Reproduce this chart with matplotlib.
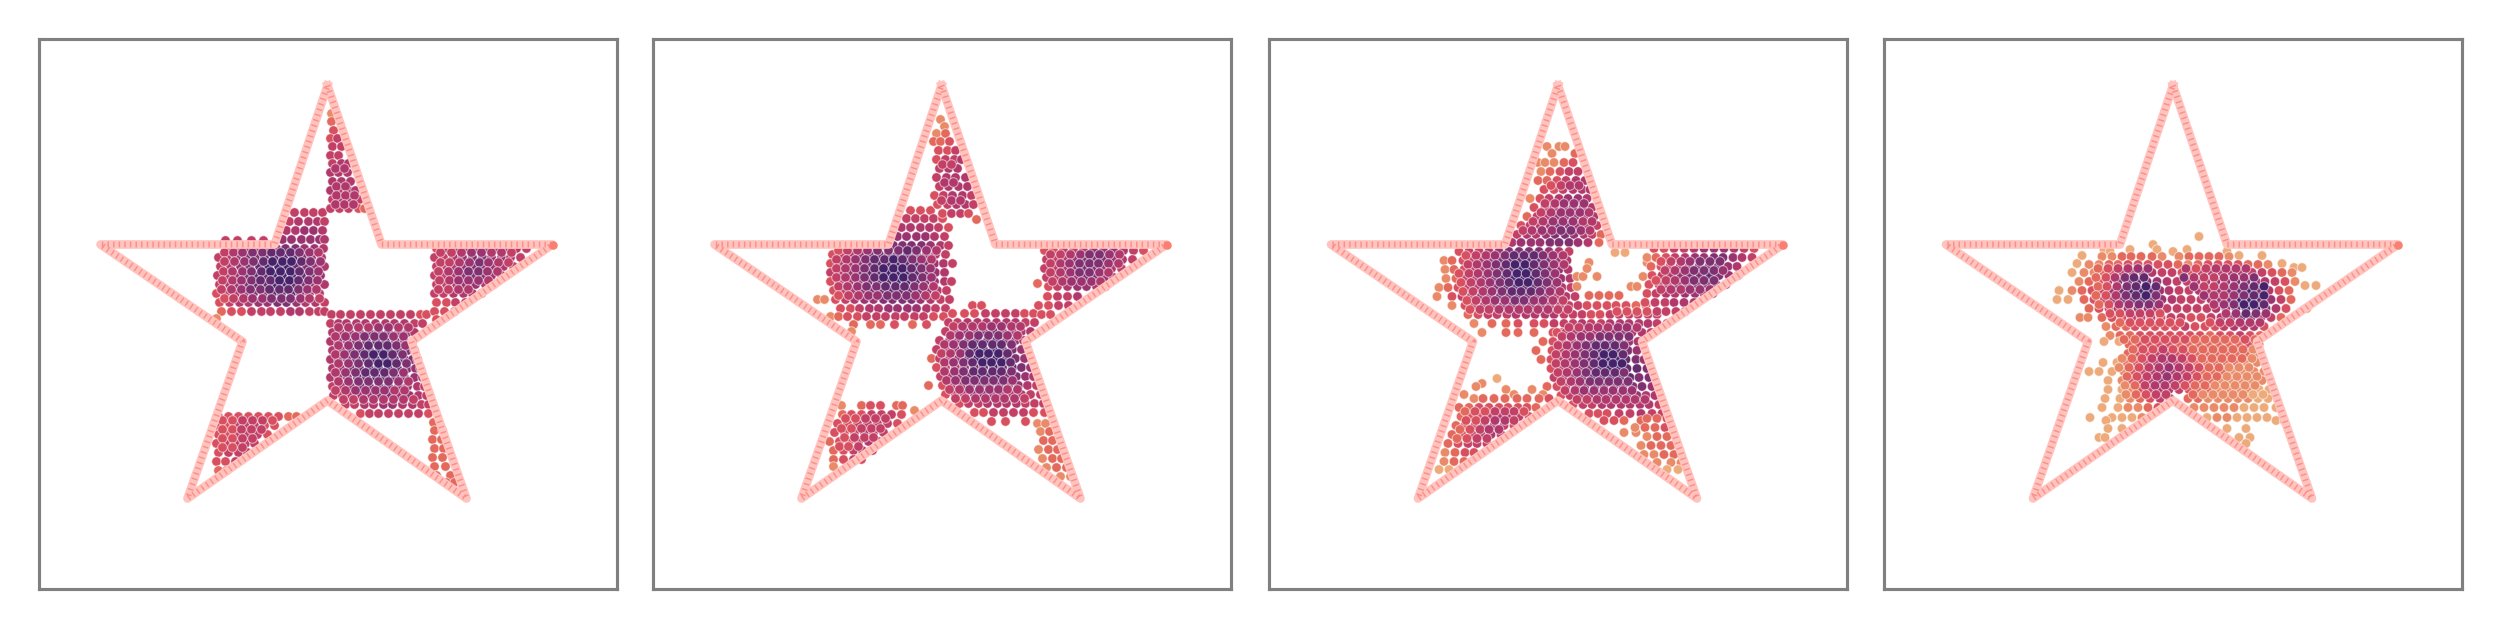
import matplotlib
matplotlib.use('Agg')
import matplotlib.pyplot as plt
from matplotlib.colors import LinearSegmentedColormap

star_x = [289, 343, 514, 373, 428, 289, 149, 204, 62, 236, 289]
star_y = [47, 206, 206, 303, 460, 362, 460, 303, 206, 206, 47]
tip_x = [514]
tip_y = [206]

# rows of points: (y, x values, shade of each point from 0 light to 9 dark)
panel1 = [
    (202, [187, 199, 213, 225], "4444"),
    (174, [256, 266, 275, 284], "4444"),
    (183, [251, 260, 270, 279, 286], "45554"),
    (192, [248, 257, 266, 275, 284], "55665"),
    (201, [244, 253, 263, 272, 281, 286], "666665"),
    (210, [190, 199, 208, 218, 228, 238, 247, 257, 266, 276, 285], "45556677665"),
    (219, [180, 189, 198, 208, 217, 226, 236, 245, 255, 264, 273, 283], "456778888765"),
    (228, [182, 192, 202, 211, 221, 230, 240, 249, 258, 268, 277, 286], "456789998765"),
    (237, [179, 188, 197, 207, 216, 226, 235, 244, 254, 263, 273, 282], "456788999876"),
    (246, [181, 191, 200, 210, 219, 229, 238, 248, 257, 267, 276, 286], "456788998765"),
    (255, [178, 187, 197, 206, 215, 225, 234, 243, 253, 262, 271, 281], "345677888765"),
    (264, [181, 191, 201, 210, 220, 229, 239, 248, 258, 267, 277, 286], "345566776554"),
    (273, [183, 193, 203, 213, 223, 232, 242, 252, 261, 271, 280, 286], "233444455444"),
    (280, [178], "1"),
    (214, [186, 195, 204, 214, 224, 233, 242, 252, 261, 271, 280], "45677888765"),
    (223, [186, 196, 206, 215, 225, 234, 244, 253, 263, 272, 282], "45678999876"),
    (233, [185, 194, 204, 213, 223, 232, 242, 252, 261, 271, 280], "45678999876"),
    (242, [184, 194, 203, 213, 222, 232, 241, 251, 260, 270, 279], "45678899876"),
    (251, [183, 193, 203, 212, 222, 231, 241, 250, 260, 269, 278], "45677888765"),
    (260, [186, 195, 205, 214, 224, 233, 243, 252, 262, 271, 281], "34566777654"),
    (276, [293, 302, 312, 322, 332, 342, 352, 362, 372, 382, 388], "44444444433"),
    (285, [292, 300, 308, 318, 327, 337, 347, 356, 366, 376, 384], "45555555544"),
    (294, [294, 302, 311, 321, 331, 340, 350, 360, 369, 376], "5566777665"),
    (303, [292, 300, 309, 318, 328, 338, 347, 357, 366, 374], "5667788765"),
    (312, [294, 303, 312, 322, 331, 341, 350, 360, 369, 376], "5678899876"),
    (321, [292, 300, 309, 318, 328, 337, 347, 356, 366, 374, 379], "56789999876"),
    (330, [294, 302, 312, 321, 331, 340, 350, 359, 369, 377, 382], "56789998766"),
    (339, [292, 300, 309, 319, 328, 338, 347, 357, 366, 376, 384], "56788988765"),
    (348, [294, 303, 312, 322, 331, 341, 350, 360, 369, 379, 386], "45677787654"),
    (357, [295, 304, 313, 323, 333, 342, 352, 361, 371, 380, 388], "44566776654"),
    (366, [307, 316, 326, 335, 345, 354, 364, 374, 383, 390], "4455665544"),
    (375, [322, 331, 340, 350, 360, 370, 380, 390], "34444443"),
    (289, [300, 310, 320, 330, 340, 350, 360, 370], "55556655"),
    (298, [297, 307, 317, 326, 336, 345, 355, 365], "56677766"),
    (307, [300, 310, 320, 330, 340, 349, 358, 367], "56788876"),
    (316, [297, 306, 316, 326, 335, 345, 354, 364], "56789987"),
    (325, [300, 310, 320, 330, 340, 349, 358, 368], "56789987"),
    (334, [297, 307, 317, 327, 336, 346, 355, 365], "56788876"),
    (343, [300, 310, 320, 330, 340, 350, 360, 370], "56777765"),
    (352, [297, 307, 317, 327, 337, 346, 356, 366], "45666655"),
    (361, [305, 315, 325, 335, 345, 355, 365, 375], "44555554"),
    (75, [293], "1"),
    (83, [293], "2"),
    (92, [295], "3"),
    (100, [292, 299], "34"),
    (108, [294, 303], "44"),
    (117, [292, 300], "44"),
    (125, [294, 303, 310], "455"),
    (134, [292, 300, 309], "555"),
    (143, [294, 303, 312], "555"),
    (152, [292, 300, 310, 317], "5555"),
    (161, [294, 303, 313, 321], "4554"),
    (170, [292, 301, 310, 320, 326], "44432"),
    (130, [297, 306], "55"),
    (148, [298, 307], "55"),
    (157, [298, 307, 316], "555"),
    (166, [297, 306, 315], "555"),
    (210, [398, 408, 418, 428, 438, 448, 458, 468, 478, 488], "3455566554"),
    (219, [396, 405, 415, 424, 434, 444, 453, 463, 472, 482], "4456776654"),
    (228, [398, 408, 417, 427, 437, 446, 456, 465, 475], "445677654"),
    (237, [396, 405, 415, 425, 434, 444, 453, 463], "44567765"),
    (246, [398, 408, 418, 427, 437, 447, 455], "4456655"),
    (255, [396, 405, 415, 425, 434, 443], "445554"),
    (264, [398, 408, 417, 427], "3344"),
    (273, [396, 406, 416], "334"),
    (281, [398], "3"),
    (214, [402, 413, 423, 433, 443, 453, 463, 473], "44566554"),
    (224, [402, 411, 421, 431, 441, 450, 460, 470], "44567654"),
    (233, [400, 410, 420, 430, 440, 449, 459], "4567765"),
    (242, [401, 411, 420, 430, 440, 450], "456665"),
    (251, [400, 410, 420, 430], "4455"),
    (378, [180, 190, 200, 210, 220, 230, 240, 250, 258], "333333322"),
    (387, [178, 187, 197, 207, 216, 226, 236], "3344433"),
    (396, [180, 190, 199, 209, 219, 229], "334443"),
    (405, [178, 187, 197, 207, 216], "34444"),
    (414, [180, 190, 200, 209], "3444"),
    (423, [178, 187, 197], "334"),
    (432, [180, 188], "22"),
    (382, [184, 194, 204, 214, 224, 234], "334443"),
    (391, [184, 194, 203, 213, 223], "33444"),
    (400, [184, 194, 204, 214], "3344"),
    (409, [184, 194, 204], "334"),
    (384, [395], "2"),
    (392, [396, 404], "22"),
    (401, [394, 403], "22"),
    (410, [396, 405], "22"),
    (419, [394, 404], "22"),
    (428, [396, 407], "22"),
    (437, [398, 412], "22"),
    (444, [408, 416], "22"),
]

panel2 = [
    (172, [258, 268, 278], "333"),
    (180, [254, 263, 272, 281, 290], "44443"),
    (189, [249, 258, 268, 277, 286, 296], "555543"),
    (198, [245, 254, 264, 273, 282, 292], "666654"),
    (207, [190, 200, 211, 222, 233, 241, 250, 259, 269, 278, 288, 296], "344567777654"),
    (216, [180, 189, 198, 208, 217, 227, 236, 245, 255, 264, 274, 283, 293], "3456778887654"),
    (225, [178, 187, 197, 206, 216, 225, 235, 244, 253, 263, 272, 282, 291, 300], "34567889887654"),
    (234, [178, 188, 197, 207, 216, 226, 235, 245, 254, 264, 273, 283, 292], "4567889998765"),
    (243, [178, 187, 197, 206, 216, 225, 235, 244, 254, 263, 273, 282, 292, 299], "34567889987654"),
    (252, [181, 190, 200, 209, 219, 228, 238, 247, 256, 266, 275, 285, 294], "3456778887654"),
    (261, [165, 172, 183, 193, 202, 212, 221, 231, 240, 250, 259, 268, 278, 288, 297], "113456677776544"),
    (270, [188, 198, 207, 217, 226, 236, 245, 255, 264, 274, 283, 293], "334556666544"),
    (278, [178, 186, 195, 205, 214, 224, 233, 243, 252, 262, 271, 281, 291], "1233444444433"),
    (286, [201, 218, 228, 242, 260, 274], "222323"),
    (293, [199], "1"),
    (212, [186, 195, 205, 215, 225, 236, 246, 255, 264, 274, 284], "34567778765"),
    (221, [184, 194, 203, 213, 222, 232, 241, 250, 260, 269, 279], "45678898765"),
    (230, [184, 193, 203, 212, 222, 231, 241, 250, 259, 269, 278], "45678999876"),
    (239, [184, 193, 203, 212, 222, 231, 241, 251, 260, 270, 279], "45678999876"),
    (248, [186, 195, 205, 214, 224, 233, 243, 252, 262, 271, 281], "45677888765"),
    (257, [186, 196, 206, 216, 225, 235, 244, 254, 263, 273, 283], "34566777654"),
    (267, [320, 329], "33"),
    (275, [300, 312, 322, 333, 343, 353, 363, 372, 381], "333444433"),
    (284, [296, 305, 315, 325, 334, 344, 354, 363, 373, 382], "4455555544"),
    (293, [293, 302, 312, 322, 331, 341, 350, 360, 369, 378], "4566776655"),
    (302, [287, 297, 306, 316, 325, 335, 344, 354, 363, 371], "4567888765"),
    (311, [284, 293, 303, 312, 322, 331, 341, 350, 360, 369], "4567899876"),
    (320, [279, 287, 297, 306, 316, 325, 335, 344, 354, 363, 372], "24567999876"),
    (329, [284, 293, 303, 312, 322, 331, 341, 350, 360, 369, 378], "34567898876"),
    (338, [288, 297, 307, 316, 326, 335, 345, 354, 364, 373, 381], "45678887765"),
    (347, [276, 290, 299, 309, 318, 328, 337, 347, 356, 366, 375, 384], "234567776654"),
    (356, [293, 303, 312, 322, 331, 341, 350, 360, 369, 378, 388], "34566665544"),
    (365, [307, 316, 326, 335, 345, 354, 364, 373, 382, 391], "3445555444"),
    (374, [322, 331, 341, 351, 361, 371, 381, 392], "33444433"),
    (383, [339, 353, 373], "333"),
    (288, [301, 310, 320, 330, 339, 349, 359, 368], "45556655"),
    (297, [298, 307, 317, 326, 336, 346, 355, 365], "56677765"),
    (306, [292, 301, 311, 320, 330, 340, 349, 359], "56788887"),
    (315, [289, 298, 308, 317, 327, 336, 346, 355], "45689998"),
    (324, [292, 301, 311, 320, 330, 339, 349, 358], "56789998"),
    (333, [292, 302, 311, 321, 330, 340, 349, 359], "56788887"),
    (342, [294, 303, 313, 322, 332, 341, 351, 360], "56777776"),
    (351, [297, 307, 317, 327, 337, 346, 355, 365], "45666655"),
    (360, [303, 313, 323, 333, 343, 352, 362, 372], "44555554"),
    (258, [395, 405, 415, 425], "3445"),
    (267, [386, 396, 406, 416], "3344"),
    (276, [389, 398], "33"),
    (212, [392, 401, 411, 421, 431, 441, 451, 461, 471, 481, 491], "33445666543"),
    (221, [394, 403, 413, 422, 432, 442, 451, 461, 470, 480], "4456777654"),
    (230, [392, 402, 411, 421, 431, 440, 450, 459, 469], "445677654"),
    (239, [394, 404, 414, 423, 433, 443, 452, 461], "44567765"),
    (248, [396, 405, 415, 425, 434, 444, 453], "3456654"),
    (245, [385], "2"),
    (216, [398, 408, 418, 428, 437, 447, 457, 467], "44567765"),
    (225, [398, 408, 417, 427, 437, 446, 456, 466], "45677765"),
    (234, [398, 408, 418, 427, 437, 447, 456], "4567765"),
    (243, [400, 410, 419, 429, 439, 448], "456665"),
    (81, [288], "1"),
    (88, [292], "1"),
    (95, [284, 293], "12"),
    (103, [281, 288, 297], "223"),
    (112, [286, 295, 303], "334"),
    (121, [284, 293, 302, 309], "3445"),
    (130, [287, 296, 305], "455"),
    (139, [284, 294, 303, 313], "4555"),
    (148, [287, 296, 306, 315], "4555"),
    (157, [282, 291, 300, 310, 319], "34554"),
    (166, [285, 295, 304, 313, 321], "34554"),
    (175, [290, 299, 308, 316], "3443"),
    (181, [324], "2"),
    (126, [290, 299], "44"),
    (144, [292, 301], "55"),
    (162, [289, 299, 308], "455"),
    (367, [189, 209, 218, 228, 244, 250], "123322"),
    (372, [262], "1"),
    (376, [190, 199, 209, 219, 229, 239, 249], "2334443"),
    (385, [185, 195, 205, 215, 225, 235, 245], "3344443"),
    (394, [182, 192, 202, 212, 221, 231], "334544"),
    (403, [177, 187, 197, 206, 216, 226], "233454"),
    (412, [181, 191, 201, 210, 220], "23444"),
    (421, [181, 191, 201, 209], "2343"),
    (428, [181], "1"),
    (380, [193, 203, 213, 223, 233], "33444"),
    (390, [189, 199, 209, 219, 228], "33444"),
    (399, [192, 202, 212, 221], "3444"),
    (408, [187, 196, 206], "334"),
    (385, [385, 393], "11"),
    (393, [388, 397], "12"),
    (402, [391, 400], "22"),
    (411, [386, 396, 405], "122"),
    (420, [390, 400, 409], "122"),
    (429, [394, 404, 414], "122"),
    (438, [408, 418], "11"),
]

panel3 = [
    (108, [278, 290, 296], "111"),
    (115, [283, 306], "12"),
    (124, [269, 276, 285, 295, 304], "11123"),
    (133, [272, 281, 291, 300, 309], "12344"),
    (142, [269, 278, 288, 297, 307, 316], "223455"),
    (151, [275, 285, 294, 304, 313, 321], "334555"),
    (160, [261, 271, 280, 290, 299, 309, 318], "1345665"),
    (169, [265, 276, 285, 295, 304, 314, 323], "3456665"),
    (178, [258, 268, 277, 287, 296, 306, 315, 325], "24566665"),
    (187, [252, 261, 271, 281, 290, 300, 309, 319, 328], "345677654"),
    (196, [248, 258, 267, 277, 286, 296, 305, 315, 323, 332], "4556776542"),
    (204, [243, 252, 262, 271, 281, 290, 300, 309, 319, 330], "5666777652"),
    (147, [282, 292, 301, 310], "3455"),
    (165, [276, 286, 295, 305, 315], "45666"),
    (174, [272, 282, 292, 301, 311, 320], "456665"),
    (183, [264, 274, 284, 294, 304, 314, 323], "4566655"),
    (192, [254, 263, 273, 283, 292, 302, 312, 321], "45667765"),
    (213, [190, 200, 210, 220, 230, 240, 250, 260, 270, 280, 290, 300], "344567777654"),
    (222, [175, 183, 194, 203, 213, 222, 232, 241, 251, 260, 270, 279, 289, 298], "12345678888765"),
    (231, [176, 185, 195, 204, 214, 223, 233, 242, 252, 261, 271, 280, 290, 299], "12345678998765"),
    (240, [177, 187, 197, 206, 216, 225, 235, 244, 254, 263, 273, 282, 292, 301], "12456789998765"),
    (249, [170, 179, 189, 198, 208, 217, 227, 236, 246, 255, 265, 274, 284, 293, 302], "123456788887654"),
    (258, [168, 183, 193, 202, 212, 221, 231, 240, 250, 259, 269, 278, 288, 297, 306], "134566778776554"),
    (267, [183, 196, 205, 215, 224, 234, 243, 253, 262, 272, 281, 291, 300, 309], "13455666665544"),
    (276, [199, 209, 219, 228, 238, 247, 257, 266, 276, 285, 295, 304, 313], "2344455555444"),
    (285, [205, 223, 237, 249, 265, 275, 285, 295, 304, 313], "1223334445"),
    (294, [213, 237, 249, 265, 284, 293, 303], "1222334"),
    (217, [197, 207, 217, 226, 236, 245, 255, 265, 274, 284, 294], "34567888765"),
    (226, [199, 208, 218, 227, 237, 246, 256, 265, 275, 285, 295], "45678998765"),
    (235, [190, 200, 209, 219, 228, 238, 248, 257, 267, 276, 286], "34567899876"),
    (244, [192, 202, 212, 221, 231, 240, 250, 259, 269, 278, 288], "34567899876"),
    (253, [194, 204, 214, 223, 233, 243, 252, 262, 271, 281, 291], "34567888765"),
    (262, [198, 207, 217, 226, 236, 246, 255, 265, 274, 284, 294], "34566776654"),
    (271, [201, 211, 220, 230, 240, 250, 259, 269, 279, 289, 299], "34455555544"),
    (238, [308, 314, 328, 374], "1111"),
    (248, [308, 362, 368], "111"),
    (224, [320, 378], "11"),
    (230, [318], "1"),
    (257, [320, 330, 340, 350], "2222"),
    (214, [346, 356], "00"),
    (267, [318, 328, 338, 347, 357, 367, 377], "3333322"),
    (276, [322, 331, 341, 350, 360, 369, 379, 388], "33444444"),
    (285, [322, 332, 341, 351, 360, 370, 379, 388, 398], "445555544"),
    (294, [288, 297, 306, 316, 325, 335, 344, 354, 363, 373, 382], "34555666554"),
    (303, [274, 284, 293, 303, 312, 322, 331, 341, 350, 360, 369], "23456778765"),
    (312, [267, 283, 292, 302, 311, 321, 330, 340, 349, 359, 368], "23456788876"),
    (321, [272, 282, 291, 300, 310, 319, 329, 338, 348, 357, 367, 375], "234567899876"),
    (330, [282, 292, 301, 311, 320, 330, 339, 349, 358, 368, 378], "34567899887"),
    (339, [285, 294, 304, 313, 323, 332, 342, 351, 361, 370, 380], "45678888877"),
    (348, [278, 288, 297, 307, 316, 326, 335, 345, 354, 364, 373, 383], "234567777776"),
    (357, [292, 301, 311, 320, 330, 339, 349, 358, 368, 377, 386], "34566666655"),
    (366, [304, 314, 323, 333, 342, 352, 361, 371, 380, 390], "3445555554"),
    (375, [320, 329, 338, 350, 361, 372, 383, 393], "33344544"),
    (382, [335, 345, 355, 372], "3322"),
    (394, [355, 367], "11"),
    (289, [300, 310, 320, 329, 339, 349, 358, 368], "44555665"),
    (298, [293, 302, 312, 321, 331, 340, 350, 360], "45667777"),
    (307, [289, 298, 308, 317, 327, 336, 346, 355], "45678887"),
    (316, [287, 297, 306, 316, 325, 335, 344, 354], "45678998"),
    (325, [287, 296, 306, 315, 325, 334, 344, 353], "45678999"),
    (334, [289, 298, 308, 317, 327, 336, 346, 355], "45678887"),
    (343, [292, 302, 311, 321, 330, 340, 349, 359], "45677777"),
    (352, [296, 306, 315, 325, 335, 344, 354, 363], "45666666"),
    (361, [308, 318, 328, 337, 347, 357, 366, 376], "44555555"),
    (210, [385, 395, 405, 415, 425, 435, 445, 455, 465, 475, 485], "33445666543"),
    (219, [378, 387, 397, 406, 416, 426, 435, 445, 454, 464, 473, 483], "123456677654"),
    (228, [382, 392, 401, 411, 420, 430, 440, 449, 459, 468], "2345677765"),
    (237, [383, 393, 402, 412, 421, 431, 441, 450, 460, 469], "3456778765"),
    (246, [380, 390, 399, 409, 418, 428, 438, 447, 457], "345667765"),
    (255, [378, 387, 397, 406, 416, 426, 435, 444], "34556665"),
    (264, [376, 386, 396, 405, 415, 425], "344555"),
    (273, [348, 358, 368, 378, 388, 397, 407, 416], "33334444"),
    (223, [392, 402, 412, 421, 431, 441, 451], "3456777"),
    (232, [396, 406, 416, 425, 435, 445, 454], "4567776"),
    (242, [387, 397, 406, 416, 425, 435, 445], "3456777"),
    (251, [392, 402, 412, 421, 431, 441], "455666"),
    (340, [228], "0"),
    (345, [213], "1"),
    (348, [207], "1"),
    (351, [237, 263], "11"),
    (356, [195, 245, 274], "111"),
    (360, [205, 214, 225, 236, 248, 258, 270, 280], "12222223"),
    (369, [190, 200, 210, 220, 230, 239, 249, 258, 267], "223333332"),
    (378, [192, 202, 211, 221, 231, 240, 250, 260], "23345543"),
    (387, [187, 196, 206, 215, 225, 235, 245], "2345543"),
    (396, [183, 193, 203, 212, 222, 232], "234554"),
    (405, [179, 189, 199, 208, 218], "23444"),
    (414, [176, 186, 196, 205], "1233"),
    (423, [175, 185, 195], "122"),
    (431, [170, 180], "00"),
    (373, [196, 206, 216, 226, 236, 245, 255], "2334443"),
    (382, [197, 207, 216, 226, 236, 245], "334554"),
    (391, [191, 201, 211, 220, 230], "23455"),
    (400, [188, 198, 208, 218], "2344"),
    (380, [378, 388, 398], "223"),
    (389, [366, 376, 386, 396], "1223"),
    (398, [378, 388, 398], "122"),
    (407, [372, 382, 392, 402], "1222"),
    (416, [375, 385, 395, 405], "1122"),
    (424, [388, 402, 412], "111"),
    (431, [398, 409], "00"),
]

panel4 = [
    (198, [315], "0"),
    (206, [269], "0"),
    (211, [220, 246, 273, 303], "0000"),
    (213, [226, 289, 343], "000"),
    (217, [198, 355, 378], "000"),
    (218, [218, 228, 238, 247, 257, 268, 278, 295, 305, 315, 325, 335, 345], "1122221122221"),
    (225, [193, 398], "00"),
    (229, [410, 418], "00"),
    (226, [205, 215, 225, 234, 244, 254, 264, 274, 284, 294, 304, 314, 324, 334, 344, 354, 364, 374, 384], "1122333332123333221"),
    (234, [188, 200, 210, 220, 229, 239, 249, 259, 268, 278, 288, 298, 308, 318, 328, 338, 348, 358, 368, 378, 388, 398, 408], "01123455544334555544321"),
    (243, [195, 205, 215, 224, 234, 244, 253, 263, 273, 283, 293, 303, 312, 322, 332, 342, 352, 362, 372, 381, 391, 401, 411], "12357887654455667765431"),
    (247, [421, 432], "00"),
    (252, [175, 188, 198, 208, 218, 227, 237, 247, 256, 266, 276, 285, 295, 305, 315, 325, 335, 345, 355, 365, 375, 385, 395, 405], "012346899865445567897532"),
    (261, [173, 184, 200, 210, 220, 229, 239, 249, 258, 268, 278, 288, 297, 307, 317, 327, 337, 347, 357, 367, 377, 387, 397, 407], "002346788765444567998642"),
    (270, [205, 215, 225, 234, 244, 254, 264, 273, 283, 293, 303, 313, 323, 332, 342, 352, 362, 372, 382, 392, 402, 423], "2345666544444568997530"),
    (279, [196, 204, 218, 228, 238, 248, 257, 267, 277, 287, 297, 307, 317, 327, 337, 347, 357, 367, 377, 387, 397], "112334443443345687542"),
    (288, [222, 232, 242, 251, 261, 271, 281, 291, 301, 311, 321, 331, 340, 350, 360, 370, 380], "12233333433345553"),
    (297, [226, 236, 246, 256, 266, 276, 286, 296, 306, 316, 326, 336, 346, 356, 366, 376], "1223333333233432"),
    (303, [220, 235], "00"),
    (306, [245, 255, 265, 275, 285, 295, 305, 315, 325, 335, 345, 355, 365, 375], "23333222222232"),
    (315, [244, 254, 264, 274, 284, 294, 304, 314, 324, 334, 344, 354, 364, 374], "23344332222221"),
    (324, [219, 233, 243, 253, 263, 273, 283, 293, 303, 313, 323, 333, 343, 353, 363, 373], "0023455432222211"),
    (333, [205, 215, 228, 240, 250, 260, 270, 280, 290, 300, 310, 320, 330, 340, 350, 360, 370, 380], "000134565432221111"),
    (342, [224, 238, 248, 258, 268, 278, 288, 298, 308, 318, 328, 338, 348, 358, 368, 378], "0134565432211111"),
    (351, [224, 238, 245, 255, 265, 275, 285, 295, 305, 315, 325, 335, 345, 355, 365, 375, 385], "00134554322111100"),
    (360, [221, 236, 246, 256, 266, 276, 286, 304, 314, 324, 334, 344, 354, 364, 374, 384], "0012344221111100"),
    (369, [218, 234, 244, 254, 264, 274, 310, 320, 330, 340, 350, 360, 370, 380, 392], "001123111110000"),
    (379, [206, 228, 238, 248, 258, 323, 333, 343, 353, 363, 373, 383], "000010110000"),
    (382, [222, 392, 400], "000"),
    (390, [224, 238, 343, 362], "0000"),
    (399, [215, 221, 355, 366], "0000"),
    (405, [362], "0"),
    (230, [214, 224, 234, 244, 254, 264, 302, 312, 322, 332, 342, 352, 362], "2345665345555"),
    (239, [212, 222, 231, 241, 250, 260, 300, 310, 320, 330, 340, 350, 360, 370], "23578875445667"),
    (248, [214, 223, 233, 243, 252, 262, 272, 310, 320, 330, 340, 350, 360, 370, 380], "235789864456789"),
    (257, [212, 222, 232, 242, 252, 262, 272, 320, 330, 340, 350, 360, 370, 380], "23578976556789"),
    (266, [215, 225, 235, 245, 255, 265, 275, 330, 340, 350, 360, 370, 380], "2356776567998"),
    (275, [226, 236, 246, 256, 266, 276, 342, 352, 362, 372, 382], "334443 56876"),
    (284, [236, 246, 256, 266, 276, 286, 296, 326, 336, 346, 356, 366, 376], "2333333344555"),
    (301, [240, 251, 261, 271, 281, 291, 301, 311, 321, 331, 341, 351, 361, 371], "22333332222232"),
    (311, [249, 259, 269, 279, 289, 299, 309, 319, 329, 339, 349, 359, 369], "2334332222221"),
    (320, [238, 248, 258, 268, 278, 288, 298, 308, 318, 328, 338, 348, 358, 368], "12345543222221"),
    (329, [235, 245, 255, 265, 275, 285, 295, 305, 315, 325, 335, 345, 355, 365], "12345654322111"),
    (338, [243, 253, 263, 273, 283, 293, 303, 313, 323, 333, 343, 353, 363, 373], "23456543221111"),
    (347, [241, 251, 261, 271, 281, 291, 301, 311, 321, 331, 341, 351, 361, 371], "12455432211111"),
    (356, [242, 252, 262, 272, 282, 309, 319, 329, 339, 349, 359, 369, 379], "1234421111100"),
]

shade_colors = ['#edab7c', '#e98b68', '#e3685c', '#d84f5f', '#c23f66',
                '#b0386b', '#9a336f', '#803070', '#632a6e', '#45226a']
frame_left = [38.5, 652.5, 1269, 1884]
panels = [panel1, panel2, panel3, panel4]

flare = LinearSegmentedColormap.from_list('flare_like', shade_colors)

fig = plt.figure(figsize=(10, 2.5), dpi=250)

for panel, left in zip(panels, frame_left):
    ax = fig.add_axes([left / 2500, 1 - 588.5 / 625, 578 / 2500, 550 / 625])
    ax.set_xlim(0, 578)
    ax.set_ylim(550, 0)
    ax.set_xticks([])
    ax.set_yticks([])
    for spine in ax.spines.values():
        spine.set_color('#808080')
        spine.set_linewidth(0.9)

    xs, ys, cs = [], [], []
    for y, row_x, shades in panel:
        shades = shades.replace(' ', '')
        shades = shades + shades[-1] * len(row_x)
        for x, s in zip(row_x, shades):
            xs.append(x)
            ys.append(y)
            cs.append(int(s))
    ax.scatter(xs, ys, c=cs, cmap=flare, vmin=0, vmax=9, s=7.5,
               edgecolors=(1, 1, 1, 0.55), linewidths=0.3, zorder=2)

    # star outline, pale band with a bead pattern on top
    ax.plot(star_x, star_y, color='#ffc4bf', lw=2.5, solid_joinstyle='round', zorder=3)
    ax.plot(star_x, star_y, color='#fd8f86', lw=1.7, dashes=(0.25, 0.7), zorder=4)
    ax.scatter(tip_x, tip_y, color='#fa8072', s=6, linewidths=0, zorder=5)

fig.savefig('out.png', dpi=250)
